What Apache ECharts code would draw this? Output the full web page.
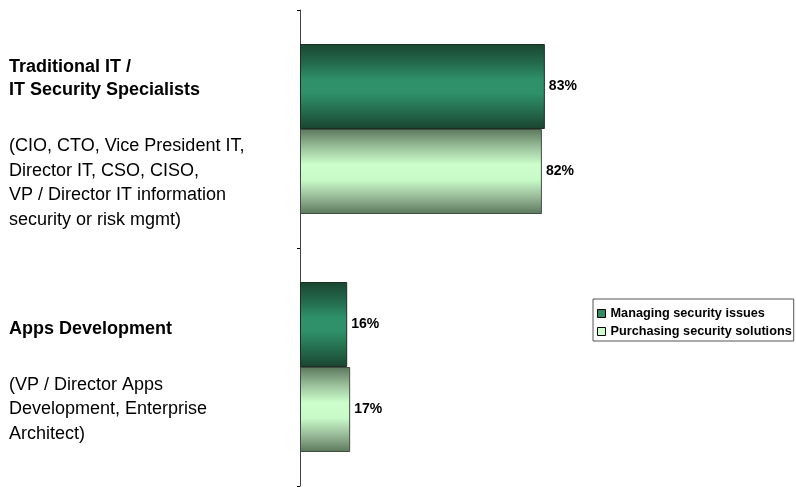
<!DOCTYPE html>
<html>
<head>
<meta charset="utf-8">
<script src="https://cdn.jsdelivr.net/npm/echarts@6/dist/echarts.min.js"></script>
<style>
  html, body { margin: 0; padding: 0; background: #fff; }
  #chart { width: 796px; height: 487px; }
</style>
</head>
<body>
<div id="chart"></div>
<script>
// Respondent groups (top to bottom)
const categories = ['Traditional IT / IT Security Specialists', 'Apps Development'];
// Heading lines and description lines shown beside each group
const groupTitles = [
  ['Traditional IT /', 'IT Security Specialists'],
  ['Apps Development']
];
const groupDetails = [
  ['(CIO, CTO, Vice President IT,', 'Director IT, CSO, CISO,', 'VP / Director IT information', 'security or risk mgmt)'],
  ['(VP / Director Apps', 'Development, Enterprise', 'Architect)']
];
// Share of respondents involved (%)
const seriesNames = ['Managing security issues', 'Purchasing security solutions'];
const managingValues = [83, 16];
const purchasingValues = [82, 17];

const FONT = '"Liberation Sans", Arial, sans-serif';

function band(stops) {
  return new echarts.graphic.LinearGradient(0, 0, 0, 1,
    stops.map(s => ({ offset: s[0], color: s[1] })));
}

const darkFill = band([
  [0, '#1a4630'], [0.2, '#22654a'], [0.42, '#2e9169'], [0.58, '#2e9169'],
  [0.8, '#246a4b'], [1, '#1a4430']
]);
const lightFill = band([
  [0, '#5c775d'], [0.22, '#9cc39c'], [0.42, '#ccffcc'], [0.6, '#c8fac8'],
  [0.82, '#93b493'], [1, '#5c775c']
]);

const chart = echarts.init(document.getElementById('chart'), null, { renderer: 'canvas' });

chart.setOption({
  animation: false,
  backgroundColor: '#ffffff',
  textStyle: { fontFamily: FONT },
  grid: { left: 300, top: 10, width: 295, height: 476, containLabel: false },
  legend: {
    orient: 'vertical',
    left: 593,
    top: 299,
    padding: [8, 2, 3, 4],
    itemGap: 5,
    itemWidth: 8,
    itemHeight: 8,
    borderColor: '#555',
    borderWidth: 1,
    icon: 'rect',
    textStyle: { fontFamily: FONT, fontSize: 12.7, fontWeight: 'bold', color: '#000' },
    data: [
      { name: seriesNames[0], itemStyle: { color: '#2e8b62', borderColor: '#000', borderWidth: 1 } },
      { name: seriesNames[1], itemStyle: { color: '#ccffcc', borderColor: '#000', borderWidth: 1 } }
    ]
  },
  xAxis: {
    type: 'value',
    min: 0,
    max: 100,
    show: false
  },
  yAxis: {
    type: 'category',
    inverse: true,
    data: categories,
    axisLine: { show: true, lineStyle: { color: '#444', width: 1 } },
    axisTick: { show: true, length: 3, lineStyle: { color: '#000' } },
    splitLine: { show: false },
    axisLabel: {
      align: 'left',
      margin: 291,
      padding: [30, 0, 0, 0],
      formatter: function (value, idx) {
        const t = groupTitles[idx].map(s => '{t|' + s + '}').join('\n');
        const d = groupDetails[idx].map(s => '{d|' + s + '}').join('\n');
        return t + '\n{g| }\n' + d;
      },
      rich: {
        t: { fontFamily: FONT, fontSize: 18, fontWeight: 'bold', color: '#000', lineHeight: 23 },
        g: { fontSize: 10, lineHeight: 32 },
        d: { fontFamily: FONT, fontSize: 18, color: '#000', lineHeight: 24.5 }
      }
    }
  },
  series: [
    {
      name: seriesNames[0],
      type: 'bar',
      data: managingValues,
      barWidth: 85,
      barGap: '0%',
      itemStyle: { color: darkFill, borderColor: '#1e2e24', borderWidth: 1 },
      label: {
        show: true, position: 'right', distance: 4,
        formatter: '{c}%',
        fontFamily: FONT, fontSize: 14, fontWeight: 'bold', color: '#000'
      }
    },
    {
      name: seriesNames[1],
      type: 'bar',
      data: purchasingValues,
      barWidth: 85,
      barGap: '0%',
      itemStyle: { color: lightFill, borderColor: '#3f4f40', borderWidth: 1 },
      label: {
        show: true, position: 'right', distance: 4,
        formatter: '{c}%',
        fontFamily: FONT, fontSize: 14, fontWeight: 'bold', color: '#000'
      }
    }
  ]
});
</script>
</body>
</html>
